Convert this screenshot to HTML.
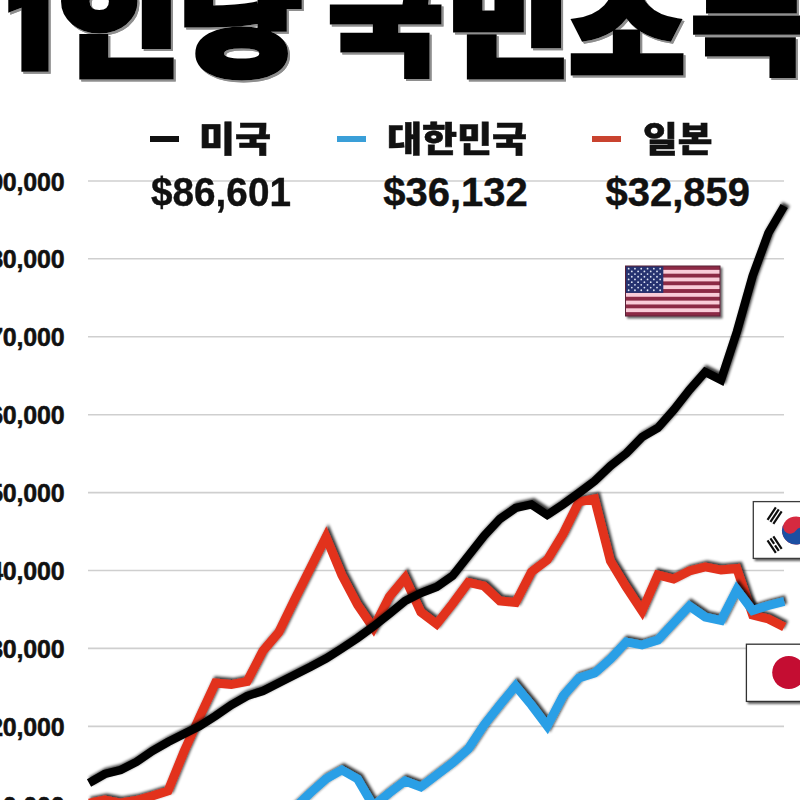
<!DOCTYPE html>
<html lang="ko"><head><meta charset="utf-8"><title>1인당 국민소득</title>
<style>
html,body{margin:0;padding:0;background:#fff;}
body{width:800px;height:800px;position:relative;overflow:hidden;font-family:"Liberation Sans","Noto Sans CJK KR",sans-serif;}
#chart{position:absolute;left:0;top:0;}
.yl{position:absolute;right:735.6px;width:120px;text-align:right;font-weight:bold;font-size:25px;line-height:28px;color:#111;white-space:nowrap;letter-spacing:-0.2px;-webkit-text-stroke:0.5px #111;}
.ttl{position:absolute;top:0;left:0;width:800px;height:100px;margin:0;font-family:"Noto Sans CJK KR","Liberation Sans",sans-serif;font-weight:900;font-size:118px;color:#000;white-space:nowrap;line-height:1;filter:drop-shadow(0.8px 0.8px 0 #fff) drop-shadow(2.3px 2.3px 0 #8e8e8e);}
.ttl span{position:absolute;display:block;transform-origin:0 0;-webkit-text-stroke:7px #000;}
.ttl .one{font-family:"IPAGothic","NanumGothic",sans-serif;font-weight:400;font-size:125px;-webkit-text-stroke:17px #000;}
.lg{position:absolute;font-family:"Noto Sans CJK KR","Liberation Sans",sans-serif;font-weight:900;font-size:35px;line-height:40px;color:#111;white-space:nowrap;transform-origin:0 0;-webkit-text-stroke:0.6px #111;}
.val{position:absolute;font-weight:bold;font-size:40px;line-height:40px;color:#111;white-space:nowrap;transform-origin:0 0;-webkit-text-stroke:0.4px #111;}
.dash{position:absolute;height:6px;width:29px;top:136px;}
</style></head><body>
<svg id="chart" width="800" height="800" viewBox="0 0 800 800">
<defs>
<filter id="sh" x="-5%" y="-5%" width="110%" height="110%"><feGaussianBlur in="SourceAlpha" stdDeviation="1.5" result="b"/><feOffset in="b" dx="2" dy="-1.9" result="o"/><feComponentTransfer in="o" result="o2"><feFuncA type="linear" slope="0.8"/></feComponentTransfer><feMerge><feMergeNode in="o2"/><feMergeNode in="SourceGraphic"/></feMerge></filter>
<filter id="fsh" x="-10%" y="-10%" width="120%" height="130%"><feGaussianBlur in="SourceAlpha" stdDeviation="1.2" result="b"/><feOffset in="b" dx="1.5" dy="1.5" result="o"/><feComponentTransfer in="o" result="o2"><feFuncA type="linear" slope="0.6"/></feComponentTransfer><feMerge><feMergeNode in="o2"/><feMergeNode in="SourceGraphic"/></feMerge></filter>
</defs>
<g stroke="#cfcfcf" stroke-width="1.6"><line x1="88" x2="784" y1="181.0" y2="181.0"/><line x1="88" x2="784" y1="258.8" y2="258.8"/><line x1="88" x2="784" y1="336.7" y2="336.7"/><line x1="88" x2="784" y1="414.7" y2="414.7"/><line x1="88" x2="784" y1="492.6" y2="492.6"/><line x1="88" x2="784" y1="570.5" y2="570.5"/><line x1="88" x2="784" y1="648.4" y2="648.4"/><line x1="88" x2="784" y1="726.4" y2="726.4"/></g>
<g filter="url(#fsh)"><g transform="translate(625.5,266)"><rect x="0" y="0" width="94.5" height="50" fill="#f9ccd8"/><rect x="0" y="0.00" width="94.5" height="3.85" fill="#8c2a45"/><rect x="0" y="7.69" width="94.5" height="3.85" fill="#8c2a45"/><rect x="0" y="15.38" width="94.5" height="3.85" fill="#8c2a45"/><rect x="0" y="23.08" width="94.5" height="3.85" fill="#8c2a45"/><rect x="0" y="30.77" width="94.5" height="3.85" fill="#8c2a45"/><rect x="0" y="38.46" width="94.5" height="3.85" fill="#8c2a45"/><rect x="0" y="46.15" width="94.5" height="3.85" fill="#8c2a45"/><rect x="0" y="0" width="37.80" height="26.92" fill="#26336f"/><circle cx="3.15" cy="2.69" r="0.9" fill="#dfe4f5"/><circle cx="9.45" cy="2.69" r="0.9" fill="#dfe4f5"/><circle cx="15.75" cy="2.69" r="0.9" fill="#dfe4f5"/><circle cx="22.05" cy="2.69" r="0.9" fill="#dfe4f5"/><circle cx="28.35" cy="2.69" r="0.9" fill="#dfe4f5"/><circle cx="34.65" cy="2.69" r="0.9" fill="#dfe4f5"/><circle cx="6.30" cy="5.38" r="0.9" fill="#dfe4f5"/><circle cx="12.60" cy="5.38" r="0.9" fill="#dfe4f5"/><circle cx="18.90" cy="5.38" r="0.9" fill="#dfe4f5"/><circle cx="25.20" cy="5.38" r="0.9" fill="#dfe4f5"/><circle cx="31.50" cy="5.38" r="0.9" fill="#dfe4f5"/><circle cx="3.15" cy="8.08" r="0.9" fill="#dfe4f5"/><circle cx="9.45" cy="8.08" r="0.9" fill="#dfe4f5"/><circle cx="15.75" cy="8.08" r="0.9" fill="#dfe4f5"/><circle cx="22.05" cy="8.08" r="0.9" fill="#dfe4f5"/><circle cx="28.35" cy="8.08" r="0.9" fill="#dfe4f5"/><circle cx="34.65" cy="8.08" r="0.9" fill="#dfe4f5"/><circle cx="6.30" cy="10.77" r="0.9" fill="#dfe4f5"/><circle cx="12.60" cy="10.77" r="0.9" fill="#dfe4f5"/><circle cx="18.90" cy="10.77" r="0.9" fill="#dfe4f5"/><circle cx="25.20" cy="10.77" r="0.9" fill="#dfe4f5"/><circle cx="31.50" cy="10.77" r="0.9" fill="#dfe4f5"/><circle cx="3.15" cy="13.46" r="0.9" fill="#dfe4f5"/><circle cx="9.45" cy="13.46" r="0.9" fill="#dfe4f5"/><circle cx="15.75" cy="13.46" r="0.9" fill="#dfe4f5"/><circle cx="22.05" cy="13.46" r="0.9" fill="#dfe4f5"/><circle cx="28.35" cy="13.46" r="0.9" fill="#dfe4f5"/><circle cx="34.65" cy="13.46" r="0.9" fill="#dfe4f5"/><circle cx="6.30" cy="16.15" r="0.9" fill="#dfe4f5"/><circle cx="12.60" cy="16.15" r="0.9" fill="#dfe4f5"/><circle cx="18.90" cy="16.15" r="0.9" fill="#dfe4f5"/><circle cx="25.20" cy="16.15" r="0.9" fill="#dfe4f5"/><circle cx="31.50" cy="16.15" r="0.9" fill="#dfe4f5"/><circle cx="3.15" cy="18.85" r="0.9" fill="#dfe4f5"/><circle cx="9.45" cy="18.85" r="0.9" fill="#dfe4f5"/><circle cx="15.75" cy="18.85" r="0.9" fill="#dfe4f5"/><circle cx="22.05" cy="18.85" r="0.9" fill="#dfe4f5"/><circle cx="28.35" cy="18.85" r="0.9" fill="#dfe4f5"/><circle cx="34.65" cy="18.85" r="0.9" fill="#dfe4f5"/><circle cx="6.30" cy="21.54" r="0.9" fill="#dfe4f5"/><circle cx="12.60" cy="21.54" r="0.9" fill="#dfe4f5"/><circle cx="18.90" cy="21.54" r="0.9" fill="#dfe4f5"/><circle cx="25.20" cy="21.54" r="0.9" fill="#dfe4f5"/><circle cx="31.50" cy="21.54" r="0.9" fill="#dfe4f5"/><circle cx="3.15" cy="24.23" r="0.9" fill="#dfe4f5"/><circle cx="9.45" cy="24.23" r="0.9" fill="#dfe4f5"/><circle cx="15.75" cy="24.23" r="0.9" fill="#dfe4f5"/><circle cx="22.05" cy="24.23" r="0.9" fill="#dfe4f5"/><circle cx="28.35" cy="24.23" r="0.9" fill="#dfe4f5"/><circle cx="34.65" cy="24.23" r="0.9" fill="#dfe4f5"/><rect x="0" y="0" width="94.5" height="50" fill="none" stroke="#5a2038" stroke-width="1"/></g></g>
<g filter="url(#fsh)">
<rect x="753.3" y="501.6" width="60" height="56.8" fill="#fff" stroke="#3a3a3a" stroke-width="1.3"/>
<g transform="translate(796,530.5) rotate(33.7)"><circle cx="0" cy="0" r="14" fill="#d62a40"/><path d="M-14 0A14 14 0 0 0 14 0A7 7 0 0 0 0 0A7 7 0 0 1 -14 0Z" fill="#1d4fa3"/></g>
<g stroke="#111" stroke-width="2.2" fill="none" transform="translate(774.6,515.6) rotate(-56.3)"><path d="M-7.5 -3.5H7.5M-7.5 0H7.5M-7.5 3.5H7.5"/></g>
<g stroke="#111" stroke-width="2.2" fill="none" transform="translate(774.6,544.6) rotate(56.3)"><path d="M-7.5 -3.5H7.5M-7.5 0H-0.8M0.8 0H7.5M-7.5 3.5H7.5"/></g>
</g>
<g filter="url(#fsh)">
<rect x="746.4" y="644.2" width="70" height="57.2" fill="#fff" stroke="#333" stroke-width="1.3"/>
<circle cx="788.8" cy="672.5" r="16.6" fill="#c40a33"/>
</g>
<g fill="none" stroke-width="8.9" stroke-linejoin="miter" stroke-miterlimit="6" stroke-linecap="butt">
<polyline filter="url(#sh)" stroke="#e2301d" points="89.0,803.0 104.8,800.0 120.6,803.0 136.4,800.5 152.2,796.0 168.0,791.0 183.8,752.0 199.6,717.0 215.4,683.0 231.2,684.5 247.0,681.5 262.8,651.0 278.6,632.5 294.4,600.0 310.2,568.5 326.0,537.0 341.8,575.0 357.6,605.0 373.4,628.0 389.2,597.0 405.0,578.0 420.8,612.0 436.6,624.0 452.4,604.0 468.2,582.5 484.0,586.0 499.8,601.0 515.6,602.5 531.4,572.0 547.2,560.0 563.0,534.0 578.8,502.0 594.6,499.0 610.4,561.0 626.2,587.0 642.0,611.0 657.8,575.0 673.6,579.0 689.4,571.0 705.2,567.0 721.0,570.0 736.8,568.5 752.6,615.0 768.4,619.0 784.2,627.0"/>
<polyline filter="url(#sh)" stroke="#2b9fe6" points="278.6,821.0 294.4,808.0 310.2,793.0 326.0,779.0 341.8,770.0 357.6,779.0 373.4,806.0 389.2,793.0 405.0,781.0 420.8,787.0 436.6,775.0 452.4,763.0 468.2,749.0 484.0,725.0 499.8,705.0 515.6,686.0 531.4,705.0 547.2,726.0 563.0,696.0 578.8,678.0 594.6,673.0 610.4,659.0 626.2,642.0 642.0,645.0 657.8,640.0 673.6,623.0 689.4,606.0 705.2,617.0 721.0,620.5 736.8,589.5 752.6,610.5 768.4,605.5 784.2,601.5"/>
<polyline filter="url(#sh)" stroke="#000" stroke-width="8.4" points="89.0,783.0 104.8,774.0 120.6,770.0 136.4,762.0 152.2,751.0 168.0,742.0 183.8,734.0 199.6,726.0 215.4,716.0 231.2,705.0 247.0,696.0 262.8,691.0 278.6,683.0 294.4,675.0 310.2,667.0 326.0,658.5 341.8,648.5 357.6,638.0 373.4,626.5 389.2,614.0 405.0,601.0 420.8,593.0 436.6,587.0 452.4,576.0 468.2,556.0 484.0,536.0 499.8,519.0 515.6,508.0 531.4,504.5 547.2,515.0 563.0,504.5 578.8,493.0 594.6,481.0 610.4,466.0 626.2,453.5 642.0,437.0 657.8,428.0 673.6,410.0 689.4,390.0 705.2,372.0 721.0,380.0 736.8,332.0 752.6,276.0 768.4,233.0 784.2,206.0"/>
</g>
</svg>
<div class="yl" style="top:167.5px">90,000</div><div class="yl" style="top:245.3px">80,000</div><div class="yl" style="top:323.2px">70,000</div><div class="yl" style="top:401.2px">60,000</div><div class="yl" style="top:479.1px">50,000</div><div class="yl" style="top:557.0px">40,000</div><div class="yl" style="top:634.9px">30,000</div><div class="yl" style="top:712.9px">20,000</div><div class="yl" style="top:791.8px">10,000</div>
<div class="dash" style="left:150px;background:#111"></div>
<div class="dash" style="left:336.5px;background:#3a9fd8"></div>
<div class="dash" style="left:591.5px;background:#c9432f"></div>
<div class="lg" style="left:199.2px;top:117.3px;transform:scaleX(1.12)">미국</div>
<div class="lg" style="left:386.5px;top:117.3px;transform:scaleX(1.088)">대한민국</div>
<div class="lg" style="left:643.2px;top:117.3px;transform:scaleX(1.077)">일본</div>
<div class="val" style="left:151.2px;top:172px;transform:scaleX(0.968)">$86,601</div>
<div class="val" style="left:383.2px;top:172px">$36,132</div>
<div class="val" style="left:605.4px;top:172px">$32,859</div>
<h1 class="ttl">
<span class="one" style="left:2px;top:-31.6px;transform:scale(1,0.924)">1</span>
<span style="left:58.8px;top:-44.5px;transform:scale(1.115,1)">인</span>
<span style="left:179.5px;top:-45px;transform:scale(1.115,1)">당</span>
<span style="left:328.4px;top:-45.5px;transform:scale(1.062,1);-webkit-text-stroke-width:5px">국</span>
<span style="left:445.6px;top:-44.5px;transform:scale(1.146,1)">민</span>
<span style="left:570px;top:-37px;transform:scale(1.052,1)">소</span>
<span style="left:690.8px;top:-41.8px;transform:scale(1.1,0.96);-webkit-text-stroke-width:5px">득</span>
</h1>
</body></html>
